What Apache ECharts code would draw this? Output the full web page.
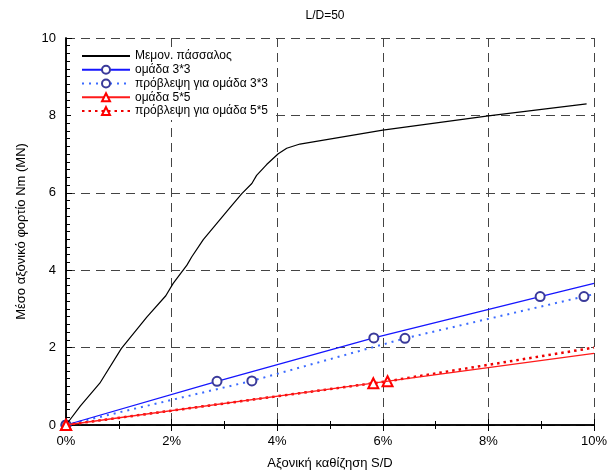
<!DOCTYPE html>
<html><head><meta charset="utf-8">
<script src="https://cdn.jsdelivr.net/npm/echarts@6/dist/echarts.min.js"></script>
<style>html,body{margin:0;padding:0;background:#fff}#c{width:614px;height:475px}</style>
</head><body><div id="c"></div>
<script>
const titleText = "L/D=50";
const xAxisName = "Αξονική καθίζηση S/D";
const yAxisName = "Μέσο αξονικό φορτίο Nm (MN)";
const xTicks = [0, 2, 4, 6, 8, 10];
const yTicks = [0, 2, 4, 6, 8, 10];
const seriesNames = ["Μεμον. πάσσαλος", "ομάδα 3*3", "πρόβλεψη για ομάδα 3*3", "ομάδα 5*5", "πρόβλεψη για ομάδα 5*5"];

// Single pile (x in %, y in MN)
const singleX = [0, 0.27, 0.64, 1.05, 1.53, 1.89, 2.03, 2.29, 2.38, 2.6, 3.07, 3.33, 3.52, 3.61, 3.80, 4.02, 4.18, 4.43, 6.0, 8.0, 9.86];
const singleY = [0, 0.49, 1.08, 1.98, 2.79, 3.34, 3.66, 4.13, 4.34, 4.79, 5.56, 5.98, 6.24, 6.45, 6.73, 7.01, 7.15, 7.26, 7.62, 7.99, 8.30];
// Group 3x3 measured (last point = line extension to axis edge)
const g33X = [0, 2.86, 5.83, 8.98, 10];
const g33Y = [0, 1.13, 2.25, 3.32, 3.66];
// Group 3x3 prediction
const p33X = [0, 3.52, 6.42, 9.81, 10];
const p33Y = [0, 1.14, 2.24, 3.32, 3.38];
// Group 5x5 measured
const g55X = [0, 5.82, 10];
const g55Y = [0, 1.08, 1.85];
// Group 5x5 prediction
const p55X = [0, 6.09, 10];
const p55Y = [0, 1.13, 2.0];

function pts(xs, ys, lastNoSymbol) {
  return xs.map((x, i) => {
    const it = { value: [x, ys[i]] };
    if (lastNoSymbol && i === xs.length - 1) it.symbol = 'none';
    return it;
  });
}

const font = "'Liberation Sans', Arial, sans-serif";
const chart = echarts.init(document.getElementById('c'));
const gridLine = { show: true, lineStyle: { color: '#444', type: [9, 6], width: 1 } };
chart.setOption({
  animation: false,
  textStyle: { fontFamily: font },
  title: { text: titleText, left: 320, top: 5, textAlign: 'center',
    textStyle: { fontSize: 12, fontWeight: 'normal', color: '#000', fontFamily: font } },
  legend: {
    orient: 'vertical', left: 71, top: 47, itemWidth: 48, itemHeight: 10, itemGap: 0,
    padding: [2, 7, 2, 10], backgroundColor: '#fff', z: 10,
    textStyle: { fontSize: 12, color: '#000', fontFamily: font, lineHeight: 13.8 },
    data: seriesNames.map((n, i) => i === 0 ? { name: n, itemStyle: { opacity: 0 } } : n)
  },
  grid: { left: 66, right: 20, top: 38, bottom: 46 },
  xAxis: [{
    type: 'value', min: xTicks[0], max: xTicks[xTicks.length - 1], interval: 2,
    name: xAxisName, nameLocation: 'middle', nameGap: 32,
    nameTextStyle: { fontSize: 13, color: '#000', fontFamily: font },
    axisLine: { show: true, lineStyle: { color: '#000', width: 1.5 } },
    axisTick: { show: true, inside: true, length: 6, lineStyle: { color: '#000' } },
    minorTick: { show: true, splitNumber: 2, length: 4, lineStyle: { color: '#000' } },
    axisLabel: { formatter: v => v + '%', fontSize: 13, color: '#000', margin: 10, fontFamily: font },
    splitLine: gridLine
  }, {
    type: 'value', position: 'top', min: 0, max: 10, interval: 2,
    axisLine: { show: true, lineStyle: { color: '#000', width: 1.5 } },
    axisTick: { show: true, inside: true, length: 6, lineStyle: { color: '#000' } },
    minorTick: { show: true, splitNumber: 2, length: 4, lineStyle: { color: '#000' } },
    axisLabel: { show: false }, splitLine: { show: false }
  }],
  yAxis: [{
    type: 'value', min: yTicks[0], max: yTicks[yTicks.length - 1], interval: 2,
    name: yAxisName, nameLocation: 'middle', nameGap: 38,
    nameTextStyle: { fontSize: 13, color: '#000', fontFamily: font },
    axisLine: { show: true, lineStyle: { color: '#000', width: 1.5 } },
    axisTick: { show: true, inside: true, length: 6, lineStyle: { color: '#000' } },
    minorTick: { show: true, splitNumber: 10, length: 4, lineStyle: { color: '#000' } },
    axisLabel: { fontSize: 13, color: '#000', margin: 10, fontFamily: font },
    splitLine: gridLine
  }, {
    type: 'value', position: 'right', min: 0, max: 10, interval: 2,
    axisLine: { show: true, lineStyle: { color: '#000', width: 1.5 } },
    axisTick: { show: false }, axisLabel: { show: false }, splitLine: { show: false }
  }],
  series: [
    { name: seriesNames[0], type: 'line', symbol: 'none', data: pts(singleX, singleY, false),
      lineStyle: { color: '#000', width: 1.2 }, itemStyle: { color: '#000' }, z: 5 },
    { name: seriesNames[1], type: 'line', symbol: 'emptyCircle', symbolSize: 9, data: pts(g33X, g33Y, true),
      lineStyle: { color: '#1515ff', width: 1.3 }, itemStyle: { color: '#3a3a9a', borderWidth: 1.2 }, z: 4 },
    { name: seriesNames[2], type: 'line', symbol: 'emptyCircle', symbolSize: 9, data: pts(p33X, p33Y, true),
      lineStyle: { color: '#3b6bff', width: 2, type: [2, 5] }, itemStyle: { color: '#3a3a9a', borderWidth: 1.2 }, z: 3 },
    { name: seriesNames[3], type: 'line', symbol: 'emptyTriangle', symbolSize: 10, data: pts(g55X, g55Y, true),
      lineStyle: { color: '#ff1a1a', width: 1.3 }, itemStyle: { color: '#ff0000', borderWidth: 1.2 }, z: 6 },
    { name: seriesNames[4], type: 'line', symbol: 'emptyTriangle', symbolSize: 10, data: pts(p55X, p55Y, true),
      lineStyle: { color: '#ee0000', width: 2.5, type: [2.5, 4] }, itemStyle: { color: '#ff0000', borderWidth: 1.2 }, z: 5 }
  ]
});
</script></body></html>
